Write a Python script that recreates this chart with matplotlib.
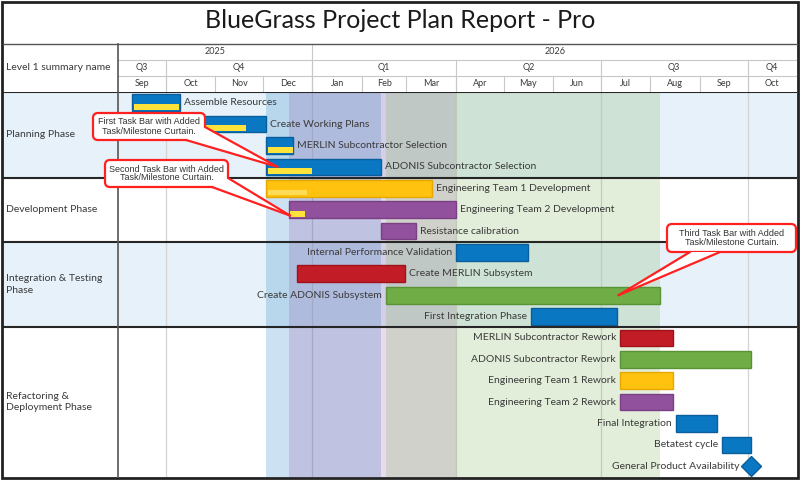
import matplotlib
matplotlib.use("Agg")
import matplotlib.pyplot as plt
import matplotlib.dates as mdates
from matplotlib.patches import Rectangle, FancyBboxPatch, Polygon
from datetime import date

plt.rcParams['font.family'] = ['Lato', 'DejaVu Sans']

# ---- data ----
lanes = ["Planning Phase", "Development Phase", "Integration & Testing\nPhase", "Refactoring &\nDeployment Phase"]
lane_rows = [4, 3, 4, 7]
lane_bg = ["#E6F1F9", "#FFFFFF", "#E6F1F9", "#FFFFFF"]

tasks = ["Assemble Resources", "Create Working Plans", "MERLIN Subcontractor Selection",
         "ADONIS Subcontractor Selection",
         "Engineering Team 1 Development", "Engineering Team 2 Development", "Resistance calibration",
         "Internal Performance Validation", "Create MERLIN Subsystem", "Create ADONIS Subsystem",
         "First Integration Phase",
         "MERLIN Subcontractor Rework", "ADONIS Subcontractor Rework", "Engineering Team 1 Rework",
         "Engineering Team 2 Rework", "Final Integration", "Betatest cycle", "General Product Availability"]
starts = [date(2025, 9, 10), date(2025, 10, 13), date(2025, 12, 3), date(2025, 12, 3),
          date(2025, 12, 3), date(2025, 12, 17), date(2026, 2, 13),
          date(2026, 4, 1), date(2025, 12, 22), date(2026, 2, 16), date(2026, 5, 18),
          date(2026, 7, 13), date(2026, 7, 13), date(2026, 7, 13), date(2026, 7, 13),
          date(2026, 8, 17), date(2026, 9, 15), date(2026, 10, 3)]
ends = [date(2025, 10, 10), date(2025, 12, 3), date(2025, 12, 20), date(2026, 2, 13),
        date(2026, 3, 17), date(2026, 4, 1), date(2026, 3, 7),
        date(2026, 5, 16), date(2026, 2, 28), date(2026, 8, 7), date(2026, 7, 11),
        date(2026, 8, 15), date(2026, 10, 3), date(2026, 8, 15), date(2026, 8, 15),
        date(2026, 9, 12), date(2026, 10, 3), date(2026, 10, 3)]
progress = [date(2025, 10, 10), date(2025, 11, 21), date(2025, 12, 20), date(2026, 1, 1),
            date(2025, 12, 29), date(2025, 12, 28), None,
            None, None, None, None,
            None, None, None, None, None, None, None]
colors = ["blue", "blue", "blue", "blue",
          "yellow", "purple", "purple",
          "blue", "red", "green", "blue",
          "red", "green", "yellow", "purple", "blue", "blue", "blue"]
label_side = ["right"] * 7 + ["left", "right", "left", "left"] + ["left"] * 7
milestones = ["General Product Availability"]

# tasks that carry a curtain, with curtain colour
curtains = [("ADONIS Subcontractor Selection", "#0070C0"),
            ("Engineering Team 2 Development", "#8E4B9E"),
            ("Create ADONIS Subsystem", "#70AD47")]

month_labels = ["Sep", "Oct", "Nov", "Dec", "Jan", "Feb", "Mar", "Apr", "May", "Jun",
                "Jul", "Aug", "Sep", "Oct"]
quarter_labels = ["Q3", "Q4", "Q1", "Q2", "Q3", "Q4"]
year_labels = ["2025", "2026"]

fill = {"blue": "#0A77C2", "yellow": "#FFC20E", "purple": "#91519C", "red": "#C21D26", "green": "#70AD47"}
edge = {"blue": "#0A5E9C", "yellow": "#E6A800", "purple": "#7A3F85", "red": "#9E1219", "green": "#5A9237"}

TXT = "#3A3A3A"
W, H = 800, 480
fig = plt.figure(figsize=(8, 4.8), dpi=100)


def fx(px):
    return px / W


def fh(px):
    return px / H


# month boundaries Sep 2025 .. Nov 2026
months = [date(2025 + (8 + i) // 12, (8 + i) % 12 + 1, 1) for i in range(len(month_labels) + 1)]
mnum = [mdates.date2num(m) for m in months]
x0, x1 = mnum[0], mnum[-1]


def groups(keys):
    out = []
    s = 0
    for i in range(1, len(keys) + 1):
        if i == len(keys) or keys[i] != keys[s]:
            out.append((s, i))
            s = i
    return out


q_groups = groups([(m.year, (m.month - 1) // 3) for m in months[:-1]])
y_groups = groups([m.year for m in months[:-1]])

n_rows = sum(lane_rows)

# ---- axes ----
lax = fig.add_axes([fx(3), fh(3), fx(115), fh(385)])
ax = fig.add_axes([fx(118), fh(3), fx(679), fh(385)])
hdr = fig.add_axes([fx(118), fh(388), fx(679), fh(48)])
for a in (lax, ax, hdr):
    a.set_axis_off()
lax.set_xlim(0, 1)
lax.set_ylim(n_rows, 0)
ax.set_xlim(x0, x1)
ax.set_ylim(n_rows, 0)
hdr.set_xlim(x0, x1)
hdr.set_ylim(3, 0)

# lanes
r = 0
for name, n, bg in zip(lanes, lane_rows, lane_bg):
    ax.axhspan(r, r + n, color=bg, lw=0, zorder=0)
    lax.axhspan(r, r + n, color=bg, lw=0, zorder=0)
    lax.text(0.025, r + n / 2, name, ha="left", va="center", fontsize=7.5, color=TXT,
             linespacing=1.35)
    r += n
bounds = [0]
for n in lane_rows:
    bounds.append(bounds[-1] + n)
for b in bounds[:-1]:
    ax.axhline(b, color="#262626", lw=1.5, zorder=8)
    lax.axhline(b, color="#262626", lw=1.5, zorder=8)

# quarter gridlines
for s, e in q_groups[1:]:
    ax.axvline(mnum[s], color="#D4D4D4", lw=0.9, zorder=1)

# curtains
idx = {t: i for i, t in enumerate(tasks)}
for t, c in curtains:
    i = idx[t]
    ax.axvspan(mdates.date2num(starts[i]), mdates.date2num(ends[i]), color=c, alpha=0.2, lw=0, zorder=2)

# bars
BH = 0.78
for i, t in enumerate(tasks):
    s = mdates.date2num(starts[i])
    e = mdates.date2num(ends[i])
    y = i + 0.5
    c = colors[i]
    if t in milestones:
        ax.plot(e, y, marker="D", markersize=10, color=fill[c], markeredgecolor=edge[c], zorder=5,
                clip_on=False)
        ax.annotate(t, (e, y), xytext=(-8, 0), textcoords="offset points", ha="right", va="center",
                    fontsize=7.5, color=TXT, zorder=6)
        continue
    ax.barh(y, e - s, left=s, height=BH, color=fill[c], edgecolor=edge[c], lw=1, zorder=4)
    if progress[i] is not None:
        p = mdates.date2num(progress[i])
        pc = "#FFDC55" if c == "yellow" else "#FFE23A"
        ax.barh(y + 0.2, p - s - 1.5, left=s + 1, height=0.27, color=pc, lw=0, zorder=5)
    if label_side[i] == "right":
        ax.annotate(t, (e, y), xytext=(3, 0), textcoords="offset points", ha="left", va="center",
                    fontsize=7.5, color=TXT, zorder=6)
    else:
        ax.annotate(t, (s, y), xytext=(-3, 0), textcoords="offset points", ha="right", va="center",
                    fontsize=7.5, color=TXT, zorder=6)

# header
HL = "#C8C8C8"
hdr.axhline(1, color=HL, lw=0.8)
hdr.axhline(2, color=HL, lw=0.8)
for lab, (s, e) in zip(year_labels, y_groups):
    hdr.text((mnum[s] + mnum[e]) / 2, 0.5, lab, ha="center", va="center", fontsize=6.5, color=TXT)
    if s > 0:
        hdr.plot([mnum[s]] * 2, [0, 3], color=HL, lw=0.8)
for lab, (s, e) in zip(quarter_labels, q_groups):
    hdr.text((mnum[s] + mnum[e]) / 2, 1.5, lab, ha="center", va="center", fontsize=6.5, color=TXT)
    if s > 0:
        hdr.plot([mnum[s]] * 2, [1, 3], color=HL, lw=0.8)
for k, lab in enumerate(month_labels):
    hdr.text((mnum[k] + mnum[k + 1]) / 2, 2.5, lab, ha="center", va="center", fontsize=6.5, color=TXT)
    if k > 0:
        hdr.plot([mnum[k]] * 2, [2, 3], color=HL, lw=0.8)

# ---- overlay in pixel units: frame, title, callouts ----
ov = fig.add_axes([0, 0, 1, 1], zorder=10)
ov.set_xlim(0, W)
ov.set_ylim(H, 0)
ov.set_axis_off()
ov.patch.set_alpha(0)

ov.text(400, 21, "BlueGrass Project Plan Report - Pro", ha="center", va="center", fontsize=18,
        color="#1A1A1A")
ov.text(6, 68, "Level 1 summary name", ha="left", va="center", fontsize=7.5, color=TXT)
ov.plot([3, 797], [44, 44], color="#555555", lw=1.0)
ov.plot([118, 118], [44, 477], color="#555555", lw=1.2)
ov.add_patch(Rectangle((1.5, 1.5), 796, 476, fill=False, edgecolor="#222222", lw=2))


def to_px(x, y):
    dx, dy = ax.transData.transform((x, y))
    return dx, H - dy


def callout(box, base, tip, text):
    bx, by, bw, bh = box
    ov.add_patch(FancyBboxPatch((bx, by), bw, bh, boxstyle="round,pad=0,rounding_size=5",
                                facecolor="white", edgecolor="#FF2020", lw=1.6, zorder=11))
    ov.add_patch(Polygon([base[0], base[1], tip], closed=True, facecolor="white", lw=0, zorder=12))
    for b in base:
        ov.plot([b[0], tip[0]], [b[1], tip[1]], color="#FF2020", lw=1.6, zorder=13,
                solid_capstyle="round")
    ov.text(bx + bw / 2, by + bh / 2, text, ha="center", va="center", fontsize=6.5, color="#333333",
            family=["Liberation Sans", "DejaVu Sans"], linespacing=1.0, zorder=14)


fig.canvas.draw()
i1 = idx["ADONIS Subcontractor Selection"]
i2 = idx["Engineering Team 2 Development"]
i3 = idx["Create ADONIS Subsystem"]
tip1 = to_px(mdates.date2num(starts[i1]) + 7, i1 + 0.5)
tip2 = to_px(mdates.date2num(starts[i2]) + 1, i2 + 0.78)
tip3 = to_px(mdates.date2num(ends[i3]) - 26, i3 + 0.5)

callout((93, 113, 112, 27), [(205, 127), (186, 140)], tip1,
        "First Task Bar with Added\nTask/Milestone Curtain.")
callout((105, 160, 123, 27), [(228, 178), (212, 187)], tip2,
        "Second Task Bar with Added\nTask/Milestone Curtain.")
callout((667, 224, 129, 28), [(690, 252), (720, 252)], tip3,
        "Third Task Bar with Added\nTask/Milestone Curtain.")

fig.savefig("out.png", dpi=100)
